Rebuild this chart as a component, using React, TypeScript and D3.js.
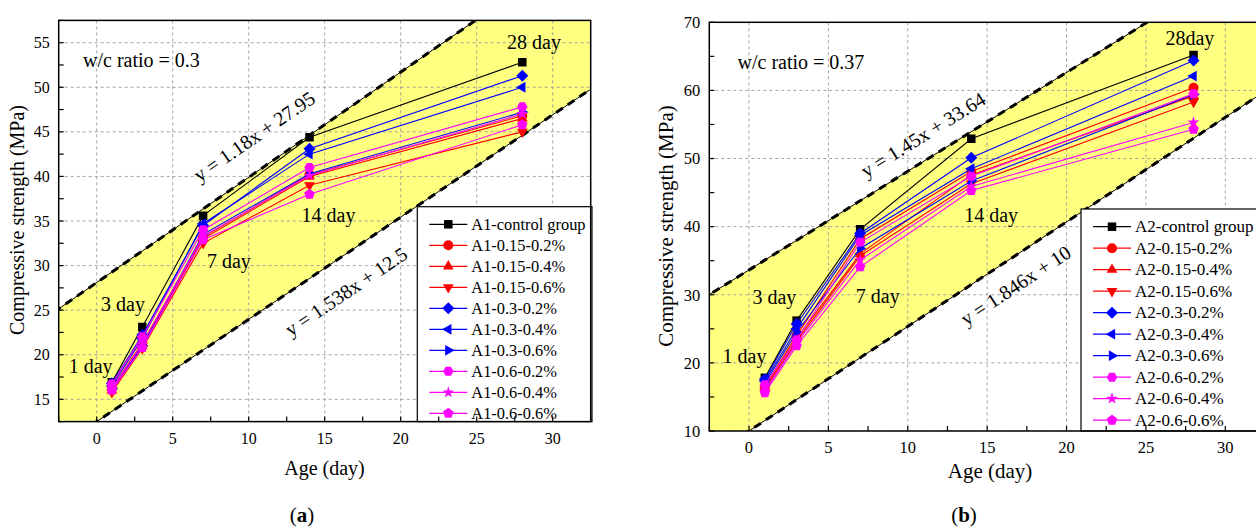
import React from 'react'
import * as d3 from 'd3'

// ages (day)
const ages = [1, 3, 7, 14, 28]

// w/c = 0.3 group
const a1Names = ['A1-control group', 'A1-0.15-0.2%', 'A1-0.15-0.4%', 'A1-0.15-0.6%', 'A1-0.3-0.2%', 'A1-0.3-0.4%', 'A1-0.3-0.6%', 'A1-0.6-0.2%', 'A1-0.6-0.4%', 'A1-0.6-0.6%']
const a1Control = [16.9, 23.1, 35.6, 44.4, 52.8]
const a1R015_02 = [16.3, 21.3, 33.2, 40.2, 46.8]
const a1R015_04 = [16.0, 21.0, 33.0, 40.0, 46.5]
const a1R015_06 = [15.8, 20.7, 32.5, 39.0, 45.0]
const a1R03_02 = [16.8, 22.2, 34.5, 43.1, 51.3]
const a1R03_04 = [16.5, 21.8, 34.7, 42.5, 50.0]
const a1R03_06 = [16.2, 21.0, 33.5, 40.3, 47.2]
const a1R06_02 = [16.7, 22.0, 34.0, 41.0, 47.8]
const a1R06_04 = [16.2, 21.2, 33.3, 40.1, 47.0]
const a1R06_06 = [16.0, 20.8, 32.9, 38.0, 45.8]

// w/c = 0.37 group
const a2Names = ['A2-control group', 'A2-0.15-0.2%', 'A2-0.15-0.4%', 'A2-0.15-0.6%', 'A2-0.3-0.2%', 'A2-0.3-0.4%', 'A2-0.3-0.6%', 'A2-0.6-0.2%', 'A2-0.6-0.4%', 'A2-0.6-0.6%']
const a2Control = [17.8, 26.2, 39.6, 52.9, 65.2]
const a2R015_02 = [16.6, 24.0, 38.2, 48.1, 60.4]
const a2R015_04 = [16.3, 23.6, 36.0, 47.6, 59.2]
const a2R015_06 = [16.0, 23.2, 35.7, 46.3, 58.3]
const a2R03_02 = [17.6, 25.7, 39.0, 50.1, 64.4]
const a2R03_04 = [17.3, 25.0, 38.7, 48.5, 62.1]
const a2R03_06 = [17.0, 24.5, 36.8, 46.7, 59.4]
const a2R06_02 = [16.8, 23.4, 37.7, 47.4, 59.5]
const a2R06_04 = [15.9, 22.9, 35.1, 45.9, 55.3]
const a2R06_06 = [15.6, 22.5, 34.1, 45.3, 54.3]

const seriesColors = ['#000000', '#ff0000', '#ff0000', '#ff0000', '#0000ff', '#0000ff', '#0000ff', '#ff00ff', '#ff00ff', '#ff00ff']
const seriesMarkers = ['square', 'circle', 'triUp', 'triDown', 'diamond', 'triLeft', 'triRight', 'hexagon', 'star', 'pentagon']

const xTicks = [0, 5, 10, 15, 20, 25, 30]
const a1YTicks = [15, 20, 25, 30, 35, 40, 45, 50, 55]
const a2YTicks = [10, 20, 30, 40, 50, 60, 70]

// band boundaries [slope, intercept] as drawn, and their printed labels
const a1Upper = [1.18, 28.1]
const a1Lower = [1.147, 12.5]
const a2Upper = [1.45, 33.64]
const a2Lower = [1.535, 10]
const a1UpperLabel = 'y = 1.18x + 27.95'
const a1LowerLabel = 'y = 1.538x + 12.5'
const a2UpperLabel = 'y = 1.45x + 33.64'
const a2LowerLabel = 'y = 1.846x + 10'

const FONT = '"Liberation Serif", "Times New Roman", serif'

function poly(n: number, r: number, rotDeg: number) {
  const pts = d3.range(n).map(i => {
    const a = ((rotDeg + (360 / n) * i) * Math.PI) / 180
    return [r * Math.cos(a), r * Math.sin(a)]
  })
  return 'M' + pts.map(p => p[0].toFixed(2) + ',' + p[1].toFixed(2)).join('L') + 'Z'
}

function markerPath(kind: string, r: number) {
  switch (kind) {
    case 'square': {
      const s = r * 0.85
      return `M${-s},${-s}H${s}V${s}H${-s}Z`
    }
    case 'circle':
      return d3.symbol(d3.symbolCircle, Math.PI * r * r)() as string
    case 'triUp':
      return poly(3, r * 1.25, -90)
    case 'triDown':
      return poly(3, r * 1.25, 90)
    case 'triLeft':
      return poly(3, r * 1.25, 180)
    case 'triRight':
      return poly(3, r * 1.25, 0)
    case 'diamond':
      return poly(4, r * 1.2, -90)
    case 'hexagon':
      return poly(6, r * 1.05, 0)
    case 'star':
      return d3.symbol(d3.symbolStar, 42)() as string
    default:
      return poly(5, r * 1.1, -90)
  }
}

function Chart({ cfg }: { cfg: any }) {
  const x = d3.scaleLinear().domain(cfg.xDomain).range([cfg.left, cfg.right])
  const y = d3.scaleLinear().domain(cfg.yDomain).range([cfg.bottom, cfg.top])
  const clipId = 'clip-' + cfg.id
  const [xmin, xmax] = cfg.xDomain
  const [ymin, ymax] = cfg.yDomain

  const lineAt = (b: number[], v: number) => b[0] * v + b[1]
  const band = [
    [xmin - 20, lineAt(cfg.upper, xmin - 20)],
    [xmax + 20, lineAt(cfg.upper, xmax + 20)],
    [xmax + 20, lineAt(cfg.lower, xmax + 20)],
    [xmin - 20, lineAt(cfg.lower, xmin - 20)],
  ]
  const bandPath = d3.line().x(d => x(d[0])).y(d => y(d[1]))(band as any) + 'Z'
  const seg = (b: number[]) => d3.line().x(d => x(d[0])).y(d => y(d[1]))([[xmin - 20, lineAt(b, xmin - 20)], [xmax + 20, lineAt(b, xmax + 20)]] as any) as string
  const angle = (b: number[]) => (Math.atan2(y(lineAt(b, 10)) - y(lineAt(b, 0)), x(10) - x(0)) * 180) / Math.PI

  const line = d3.line<number>().x((_, i) => x(ages[i])).y(v => y(v))

  const xMinor = d3.range(xmin, xmax + 0.01, 2.5)
  const yMinor = d3.range(ymin, ymax + 0.01, cfg.yMinorStep)

  return (
    <g fontFamily={FONT}>
      <defs>
        <clipPath id={clipId}>
          <rect x={cfg.left} y={cfg.top} width={cfg.right - cfg.left} height={cfg.bottom - cfg.top} />
        </clipPath>
      </defs>
      <g clipPath={`url(#${clipId})`}>
        <path d={bandPath} fill="#ffff80" />
        {xTicks.map(t => (
          <line key={'gx' + t} x1={x(t)} x2={x(t)} y1={cfg.top} y2={cfg.bottom} stroke="#9a9a9a" strokeWidth={0.9} strokeDasharray="3,3" />
        ))}
        {cfg.yTicks.map((t: number) => (
          <line key={'gy' + t} x1={cfg.left} x2={cfg.right} y1={y(t)} y2={y(t)} stroke="#9a9a9a" strokeWidth={0.9} strokeDasharray="3,3" />
        ))}
        {[cfg.upper, cfg.lower].map((b: number[], i: number) => (
          <g key={'b' + i}>
            <path d={seg(b)} stroke="#000" strokeWidth={1} fill="none" />
            <path d={seg(b)} stroke="#000" strokeWidth={3} fill="none" strokeDasharray="8,6" />
          </g>
        ))}
        {cfg.series.map((s: number[], i: number) => (
          <g key={'s' + i}>
            <path d={line(s) as string} fill="none" stroke={seriesColors[i]} strokeWidth={1.1} />
            {s.map((v, j) => (
              <path key={j} d={markerPath(seriesMarkers[i], 5)} transform={`translate(${x(ages[j])},${y(v)})`} fill={seriesColors[i]} />
            ))}
          </g>
        ))}
      </g>

      {/* legend */}
      <rect x={cfg.legend.x} y={cfg.legend.y} width={cfg.legend.w} height={cfg.bottom - cfg.legend.y} fill="#fff" stroke="#000" strokeWidth={1.2} />
      {cfg.names.map((n: string, i: number) => {
        const ly = cfg.legend.row0 + i * cfg.legend.step
        const lx = cfg.legend.x
        return (
          <g key={'l' + i}>
            <line x1={lx + 12} x2={lx + 50} y1={ly} y2={ly} stroke={seriesColors[i]} strokeWidth={1.2} />
            <path d={markerPath(seriesMarkers[i], 5)} transform={`translate(${lx + 31},${ly})`} fill={seriesColors[i]} />
            <text x={lx + 54} y={ly + cfg.legend.fs * 0.33} fontSize={cfg.legend.fs}>{n}</text>
          </g>
        )
      })}

      {/* frame and ticks */}
      <rect x={cfg.left} y={cfg.top} width={cfg.right - cfg.left} height={cfg.bottom - cfg.top} fill="none" stroke="#000" strokeWidth={1.5} />
      {xMinor.map((t: number) => (
        <line key={'tx' + t} x1={x(t)} x2={x(t)} y1={cfg.bottom} y2={cfg.bottom - 5} stroke="#000" strokeWidth={1.2} />
      ))}
      {yMinor.map((t: number) => (
        <line key={'ty' + t} x1={cfg.left} x2={cfg.left + 5} y1={y(t)} y2={y(t)} stroke="#000" strokeWidth={1.2} />
      ))}
      {xTicks.map(t => (
        <text key={'lx' + t} x={x(t)} y={cfg.bottom + 22} fontSize={cfg.tickFs} textAnchor="middle">{t}</text>
      ))}
      {cfg.yTicks.map((t: number) => (
        <text key={'ly' + t} x={cfg.left - 9} y={y(t)} dy="0.35em" fontSize={cfg.tickFs} textAnchor="end">{t}</text>
      ))}

      {/* annotations */}
      {cfg.notes.map((n: any, i: number) => (
        <text key={'n' + i} x={x(n.x)} y={y(n.y)} fontSize={20} textAnchor={n.anchor || 'middle'}>{n.text}</text>
      ))}
      <g transform={`translate(${x(cfg.upperPos[0])},${y(cfg.upperPos[1])}) rotate(${angle(cfg.upper)})`}>
        <text fontSize={20} textAnchor="middle" dy="0.35em">{cfg.upperLabel}</text>
      </g>
      <g transform={`translate(${x(cfg.lowerPos[0])},${y(cfg.lowerPos[1])}) rotate(${angle(cfg.lower)})`}>
        <text fontSize={20} textAnchor="middle" dy="0.35em">{cfg.lowerLabel}</text>
      </g>

      {/* axis titles */}
      <text x={cfg.xTitle[0]} y={cfg.xTitle[1]} fontSize={cfg.titleFs} textAnchor="middle">Age (day)</text>
      <text transform={`translate(${cfg.yTitle[0]},${cfg.yTitle[1]}) rotate(-90)`} fontSize={cfg.titleFs} textAnchor="middle">Compressive strength (MPa)</text>
      <text x={cfg.tag[0]} y={cfg.tag[1]} fontSize={21} textAnchor="middle">
        (<tspan fontWeight="bold">{cfg.tagText}</tspan>)
      </text>
    </g>
  )
}

export default function App() {
  const left = {
    id: 'a',
    left: 58.7, right: 590.7, top: 20.4, bottom: 421.6,
    xDomain: [-2.5, 32.5], yDomain: [12.5, 57.5],
    yTicks: a1YTicks, yMinorStep: 2.5,
    series: [a1Control, a1R015_02, a1R015_04, a1R015_06, a1R03_02, a1R03_04, a1R03_06, a1R06_02, a1R06_04, a1R06_06],
    names: a1Names,
    upper: a1Upper, lower: a1Lower,
    upperLabel: a1UpperLabel, lowerLabel: a1LowerLabel,
    upperPos: [10.35, 44.5], lowerPos: [16.4, 27.1],
    notes: [
      { x: -0.9, y: 52.27, text: 'w/c ratio = 0.3', anchor: 'start' },
      { x: 28.77, y: 54.3, text: '28 day' },
      { x: 15.25, y: 34.9, text: '14 day' },
      { x: 8.7, y: 29.7, text: '7 day' },
      { x: 1.73, y: 24.9, text: '3 day' },
      { x: -0.4, y: 17.95, text: '1 day' },
    ],
    legend: { x: 417.3, y: 206.7, w: 174.7, row0: 224.3, step: 21.0, fs: 16.4 },
    tickFs: 16, titleFs: 20,
    xTitle: [324.5, 475], yTitle: [23.5, 220], tag: [302, 522], tagText: 'a',
  }
  const right = {
    id: 'b',
    left: 709.3, right: 1265, top: 22.3, bottom: 431,
    xDomain: [-2.5, 32.5], yDomain: [10, 70],
    yTicks: a2YTicks, yMinorStep: 5,
    series: [a2Control, a2R015_02, a2R015_04, a2R015_06, a2R03_02, a2R03_04, a2R03_06, a2R06_02, a2R06_04, a2R06_06],
    names: a2Names,
    upper: a2Upper, lower: a2Lower,
    upperLabel: a2UpperLabel, lowerLabel: a2LowerLabel,
    upperPos: [10.96, 53.5], lowerPos: [16.79, 31.4],
    notes: [
      { x: -0.72, y: 63.2, text: 'w/c ratio = 0.37', anchor: 'start' },
      { x: 27.77, y: 66.6, text: '28day' },
      { x: 15.25, y: 40.67, text: '14 day' },
      { x: 8.11, y: 28.8, text: '7 day' },
      { x: 1.6, y: 28.6, text: '3 day' },
      { x: -0.28, y: 20.0, text: '1 day' },
    ],
    legend: { x: 1081, y: 209, w: 200, row0: 226.7, step: 21.5, fs: 17 },
    tickFs: 16.5, titleFs: 21,
    xTitle: [990, 478], yTitle: [672.5, 226], tag: [964, 522], tagText: 'b',
  }
  return (
    <svg width={1256} height={529} style={{ position: 'absolute', left: 0, top: 0, background: '#fff' }}>
      <rect width={1256} height={529} fill="#fff" />
      <Chart cfg={left} />
      <Chart cfg={right} />
    </svg>
  )
}
